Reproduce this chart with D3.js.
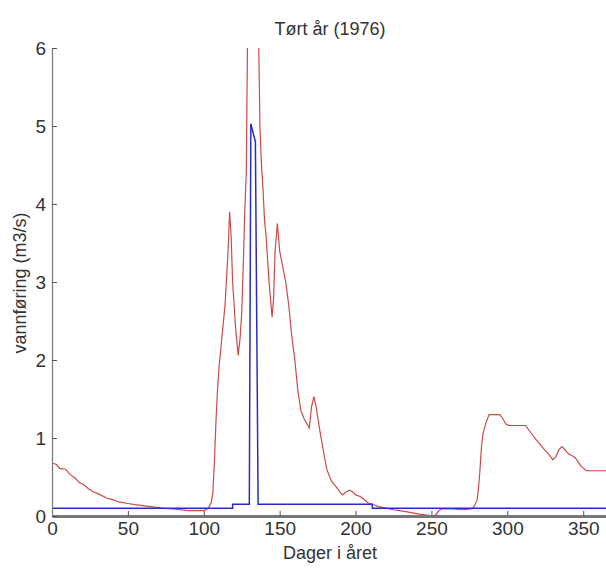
<!DOCTYPE html>
<html>
<head>
<meta charset="utf-8">
<script src="https://cdn.jsdelivr.net/npm/d3@7"></script>
<style>
  body { margin: 0; background: #fff; }
  svg { display: block; font-family: "Liberation Sans", Arial, sans-serif; }
</style>
</head>
<body>
<svg id="chart" width="606" height="572"></svg>
<script>
const xTicks = [0, 50, 100, 150, 200, 250, 300, 350];
const yTicks = [0, 1, 2, 3, 4, 5, 6];

// vannføring (rød), lest av bildet
const redDays = [0, 3, 5, 9, 12, 15, 18, 21, 24, 27, 31, 36, 40, 44, 50, 57, 65, 72, 80, 90, 100,
  103, 105, 106, 107, 108, 109, 110, 112, 114, 116, 117, 118, 119, 121, 122.7, 124, 125, 126, 127, 128,
  129, 130, 133, 135, 136, 137, 138, 139, 140, 141, 143, 145, 146, 147, 148.5, 150, 151, 152, 154,
  156, 158, 160, 162, 164, 166, 168, 169.5, 171, 172.5, 174, 176, 178, 181, 184, 187, 190, 191.5,
  194, 196, 198, 200, 203, 205, 208, 211, 215, 220, 225, 229, 235, 242, 248, 251, 253, 255, 257,
  264, 270, 276, 278, 280, 281, 282, 283, 284, 286, 288, 295, 297, 299, 301, 312, 315, 318, 321,
  324, 327, 330, 332, 334, 336, 338, 340, 343, 345, 347, 349, 352, 365];
const redValues = [0.68, 0.66, 0.61, 0.60, 0.53, 0.49, 0.43, 0.40, 0.35, 0.31, 0.28, 0.23, 0.21, 0.18, 0.16, 0.14, 0.12, 0.10, 0.09, 0.07, 0.07,
  0.10, 0.18, 0.3, 0.7, 1.2, 1.6, 1.9, 2.3, 2.7, 3.4, 3.9, 3.6, 3.0, 2.4, 2.06, 2.3, 2.6, 3.2, 3.9, 4.4,
  6.5, 7.0, 7.2, 7.0, 6.3, 5.0, 4.5, 4.2, 3.8, 3.6, 3.0, 2.55, 2.8, 3.4, 3.75, 3.4, 3.3, 3.2, 3.0,
  2.7, 2.3, 2.0, 1.6, 1.35, 1.25, 1.18, 1.13, 1.4, 1.53, 1.4, 1.15, 0.92, 0.6, 0.45, 0.38, 0.30, 0.27,
  0.31, 0.33, 0.31, 0.27, 0.25, 0.22, 0.17, 0.15, 0.12, 0.10, 0.08, 0.07, 0.05, 0.025, 0.01, 0.0, 0.02, 0.07, 0.09,
  0.09, 0.08, 0.09, 0.12, 0.2, 0.35, 0.6, 0.9, 1.06, 1.2, 1.3, 1.3, 1.25, 1.18, 1.16, 1.16, 1.08, 1.0, 0.93,
  0.86, 0.8, 0.72, 0.76, 0.85, 0.89, 0.85, 0.8, 0.77, 0.74, 0.68, 0.63, 0.58, 0.58];

// blå serie (trappetrinn)
const blueDays   = [0, 119, 119, 130, 131, 132, 134, 135.8, 211, 211, 365];
const blueValues = [0.1, 0.1, 0.15, 0.15, 5.03, 4.95, 4.8, 0.15, 0.15, 0.1, 0.1];

const svg = d3.select('#chart');
const x = d3.scaleLinear().domain([0, 365]).range([52, 606]);
const y = d3.scaleLinear().domain([0, 6]).range([516, 48]);

svg.append('clipPath').attr('id', 'plot')
  .append('rect')
    .attr('x', x(0)).attr('y', y(6))
    .attr('width', x(365) - x(0)).attr('height', y(0) - y(6));

const line = d3.line().x(d => x(d[0])).y(d => y(d[1]));

svg.append('path')
  .datum(d3.zip(redDays, redValues))
  .attr('clip-path', 'url(#plot)')
  .attr('fill', 'none')
  .attr('stroke', '#d04848')
  .attr('stroke-width', 1.2)
  .attr('d', line);

svg.append('path')
  .datum(d3.zip(blueDays, blueValues))
  .attr('clip-path', 'url(#plot)')
  .attr('fill', 'none')
  .attr('stroke', '#2a2ac8')
  .attr('stroke-width', 1.5)
  .attr('d', line);

// akser
const xAxis = svg.append('g')
  .attr('transform', `translate(0,${y(0)})`)
  .call(d3.axisBottom(x).tickValues(xTicks).tickFormat(d3.format('d'))
    .tickSize(-5).tickSizeOuter(0).tickPadding(6));
xAxis.select('.domain').attr('stroke', '#777').attr('stroke-width', 3);

const yAxis = svg.append('g')
  .attr('transform', `translate(${x(0)},0)`)
  .call(d3.axisLeft(y).tickValues(yTicks).tickFormat(d3.format('d'))
    .tickSize(-5).tickSizeOuter(0).tickPadding(6));
yAxis.select('.domain').attr('stroke', '#777').attr('stroke-width', 1.2);

svg.selectAll('.tick line').attr('stroke', '#555');
svg.selectAll('.tick text')
  .attr('fill', '#333')
  .style('font-family', '"Liberation Sans", Arial, sans-serif')
  .style('font-size', '19px');

// tekster
svg.append('text')
  .attr('x', 330).attr('y', 35)
  .attr('text-anchor', 'middle')
  .attr('fill', '#333')
  .style('font-size', '18px')
  .text('Tørt år (1976)');

svg.append('text')
  .attr('x', 330).attr('y', 559)
  .attr('text-anchor', 'middle')
  .attr('fill', '#333')
  .style('font-size', '18px')
  .text('Dager i året');

svg.append('text')
  .attr('transform', 'translate(26,283)rotate(-90)')
  .attr('text-anchor', 'middle')
  .attr('fill', '#333')
  .style('font-size', '18px')
  .text('vannføring (m3/s)');
</script>
</body>
</html>
